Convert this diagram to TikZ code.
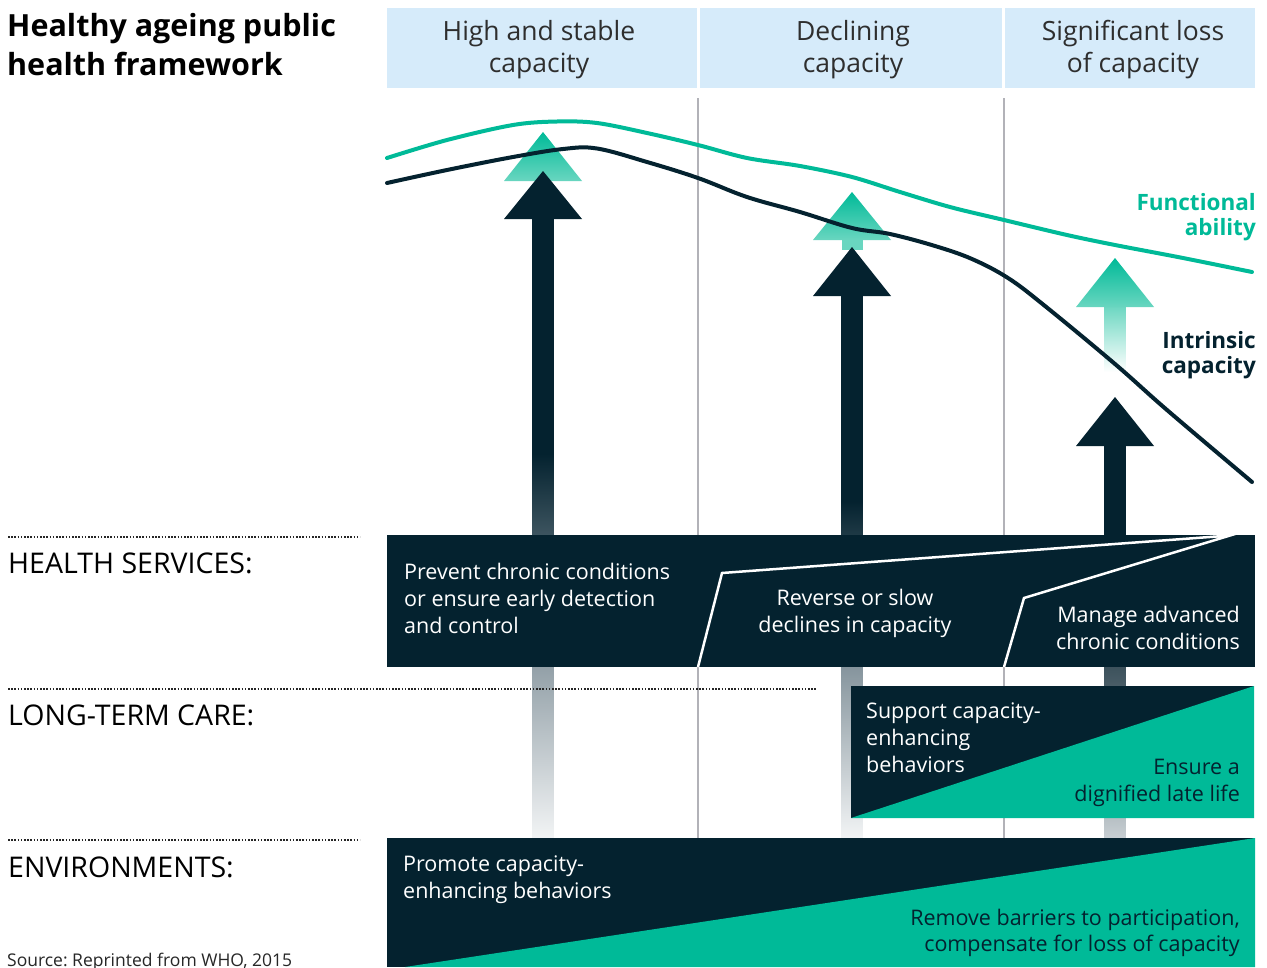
\documentclass[tikz,border=0pt]{standalone}
\usepackage{fontspec}
\setmainfont{Open Sans}
\frenchspacing
\definecolor{navy}{RGB}{4,34,47}
\definecolor{tealg}{RGB}{0,186,152}
\definecolor{mint}{RGB}{105,214,192}
\definecolor{hdrblue}{RGB}{214,235,250}
\definecolor{gridgrey}{RGB}{178,178,184}
\definecolor{shaftmid}{RGB}{125,141,150}
\definecolor{shaftmidB}{RGB}{70,90,100}
\definecolor{fadeend}{RGB}{242,244,245}
\definecolor{fadeendB}{RGB}{200,207,211}
\pgfdeclareverticalshading{shaftA}{100bp}{color(0bp)=(fadeend); color(25bp)=(fadeend); color(42bp)=(shaftmid); color(56bp)=(navy); color(100bp)=(navy)}
\pgfdeclareverticalshading{shaftB}{100bp}{color(0bp)=(fadeendB); color(25bp)=(fadeendB); color(45bp)=(shaftmidB); color(58bp)=(navy); color(100bp)=(navy)}
\tikzset{
  hdrtext/.style={font=\fontsize{26.5}{32}\selectfont, text=black!82, align=center, inner sep=0pt},
  lbl/.style={font=\fontsize{28.5}{30}\selectfont, text=black, anchor=west, inner sep=0pt},
  boxtext/.style={font=\fontsize{21.5}{27}\selectfont, text=white, inner sep=0pt},
  darktext/.style={font=\fontsize{21.5}{26.5}\selectfont, text=navy, inner sep=0pt},
  curvelbl/.style={font=\fontsize{22.5}{24.5}\selectfont\bfseries, inner sep=0pt, anchor=east, align=right},
  dotline/.style={line width=1.6pt, dash pattern=on 1.6pt off 1.6pt, draw=black!85},
  gridline/.style={draw=gridgrey, line width=2pt},
  greenhead/.style={top color=tealg, bottom color=mint},
  curve/.style={line width=4pt, line cap=round, line join=round}
}
\begin{document}
\begin{tikzpicture}[x=1pt, y=-1pt]
\useasboundingbox (0,0) rectangle (1267,967);
\clip (0,0) rectangle (1267,967);
\fill[white] (0,0) rectangle (1267,967);

% title
\node[anchor=west, inner sep=0pt, align=left, font=\fontsize{30.5}{39}\selectfont\bfseries] (title) at (7,45) {Healthy ageing public\\health framework};

% header band
\fill[hdrblue] (387,8) rectangle (697,88);
\fill[hdrblue] (700,8) rectangle (1002,88);
\fill[hdrblue] (1005,8) rectangle (1255,88);
\node[hdrtext] (h1) at (539,50) {High and stable\\capacity};
\node[hdrtext] (h2) at (853,50) {Declining\\capacity};
\node[hdrtext] (h3) at (1133,50) {Significant loss\\of capacity};

% grid lines
\draw[gridline] (698,98) -- (698,838);
\draw[gridline] (1004,98) -- (1004,838);

% arrow 1
\shade[shading=shaftA] (532.5,218) rectangle (553.5,838);
\shade[greenhead] (543,132) -- (582,181) -- (504,181) -- cycle;
\fill[navy] (543,171) -- (582,219) -- (504,219) -- cycle;
% arrow 2
\shade[shading=shaftA] (841.5,295) rectangle (862.5,838);
\fill[mint] (841.5,238) rectangle (862.5,250);
\shade[greenhead] (852,192) -- (891,240) -- (813,240) -- cycle;
\fill[navy] (852,247) -- (891,296) -- (813,296) -- cycle;
% arrow 3
\shade[top color=mint, bottom color=white] (1104.5,305) rectangle (1125.5,372);
\shade[greenhead] (1115,258) -- (1154,307) -- (1076,307) -- cycle;
\shade[shading=shaftB] (1104.5,445) rectangle (1125.5,838);
\fill[navy] (1115,397) -- (1154,446) -- (1076,446) -- cycle;

% curves
\draw[curve, tealg] plot[smooth, tension=0.55] coordinates {(387,158) (447,140) (513,125) (557,121.5) (597,123) (647,133) (698,145) (747,158) (800,166) (852,177) (900,192) (950,207) (1004,220) (1067,235) (1115,245) (1183,258) (1252,272)};
\draw[curve, navy] plot[smooth, tension=0.6] coordinates {(387,183) (447,170) (513,157) (563,149) (597,148.5) (647,162) (698,178) (747,197) (800,212) (852,228) (890,234) (935,246) (972,259) (1008,278) (1045,306) (1115,364) (1167,410) (1252,482)};
\node[curvelbl, text=tealg] (fa) at (1256,217) {Functional\\ability};
\node[curvelbl, text=navy] (ic) at (1256,355) {Intrinsic\\capacity};

% left labels
\draw[dotline] (8,537) -- (360,537);
\draw[dotline] (8,689) -- (817,689);
\draw[dotline] (8,840) -- (360,840);
\node[lbl] (hs) at (8,563) {HEALTH SERVICES:};
\node[lbl] (ltc) at (8,715) {LONG-TERM CARE:};
\node[lbl] (env) at (8,867) {ENVIRONMENTS:};

% health services box
\fill[navy] (387,535) rectangle (1255,667);
\draw[white, line width=2.5pt, line join=miter] (698,667) -- (722,573) -- (1230,535.5) -- (1024,598) -- (1004,667);
\node[boxtext, anchor=west, align=left] (hs1) at (404,598) {Prevent chronic conditions\\or ensure early detection\\and control};
\node[boxtext, align=center] (hs2) at (855,613) {Reverse or slow\\declines in capacity};
\node[boxtext, anchor=east, align=right] (hs3) at (1240,628) {Manage advanced\\chronic conditions};

% long-term care box
\fill[navy] (851,686) rectangle (1254,818);
\fill[tealg] (851,818) -- (1254,686) -- (1254,818) -- cycle;
\node[boxtext, anchor=west, align=left] (ltc1) at (866,738) {Support capacity-\\enhancing\\behaviors};
\node[darktext, anchor=east, align=right] (ltc2) at (1240,783) {Ensure a\\dignified late life};

% environments box
\fill[navy] (387,838) rectangle (1255,967);
\fill[tealg] (405,967) -- (1255,838) -- (1255,967) -- cycle;
\node[boxtext, anchor=west, align=left] (env1) at (403,880) {Promote capacity-\\enhancing behaviors};
\node[darktext, anchor=east, align=right] (env2) at (1240,933) {Remove barriers to participation,\\compensate for loss of capacity};

% source
\node[anchor=west, inner sep=0pt, font=\fontsize{17.5}{18}\selectfont, text=black!85] (src) at (7,962) {Source: Reprinted from WHO, 2015};
\end{tikzpicture}
\end{document}
